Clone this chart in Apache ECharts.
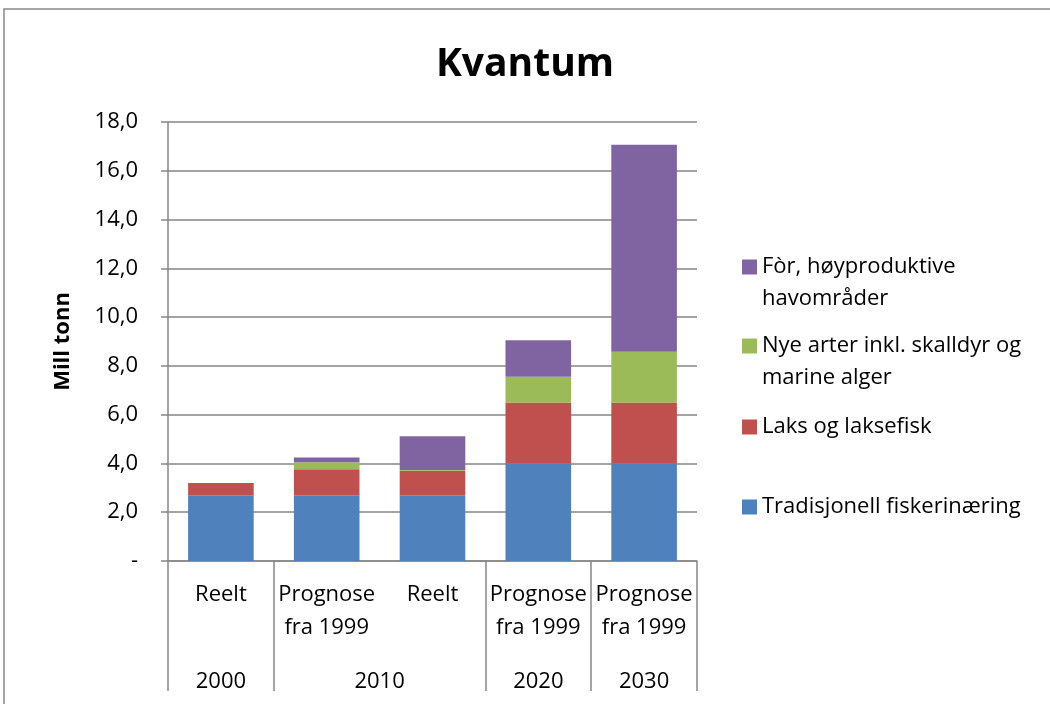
<!DOCTYPE html>
<html>
<head>
<meta charset="utf-8">
<script src="https://cdn.jsdelivr.net/npm/echarts@6/dist/echarts.min.js"></script>
<style>
  html, body { margin: 0; padding: 0; background: #fff; }
  #chart { width: 1050px; height: 704px; }
</style>
</head>
<body>
<div id="chart"></div>
<script>
// kategorier (første nivå) og år (andre nivå, halve kolonner)
var categories = ['Reelt', 'Prognose\nfra 1999', 'Reelt', 'Prognose\nfra 1999', 'Prognose\nfra 1999'];
var yearHalves = ['', '2000', '', '', '2010', '', '', '2020', '', '2030', ''];
var groupEdges = [0, 2, 6, 8, 10];

var seriesNames = ['Tradisjonell fiskerinæring', 'Laks og laksefisk',
    'Nye arter inkl. skalldyr og marine alger', 'Fòr, høyproduktive havområder'];
var legendText = ['Tradisjonell fiskerinæring', 'Laks og laksefisk',
    '\nNye arter inkl. skalldyr og\nmarine alger', '\nFòr, høyproduktive\nhavområder'];

var tradisjonell = [2.7, 2.7, 2.7, 4.0, 4.0];
var laks = [0.5, 1.06, 1.0, 2.5, 2.5];
var nyeArter = [0, 0.29, 0.03, 1.05, 2.08];
var forHav = [0, 0.19, 1.38, 1.5, 8.49];

var colors = ['#4F81BD', '#C0504D', '#9BBB59', '#8064A2'];
var FONT = 'Open Sans';
var FS = 22;

function makeSeries(i, data) {
    return {
        name: seriesNames[i],
        type: 'bar',
        stack: 'kvantum',
        barCategoryGap: '38%',
        data: data,
        itemStyle: { color: colors[i] }
    };
}

// én legende per post, plassert som i Excel (ikon ved første linje)
var legendTops = [486, 406, 293, 214];
var legends = [];
for (var i = 0; i < seriesNames.length; i++) {
    legends.push({
        orient: 'vertical',
        left: 737,
        top: legendTops[i],
        data: [seriesNames[i]],
        icon: 'rect',
        itemWidth: 15,
        itemHeight: 15,
        itemGap: 0,
        selectedMode: false,
        formatter: (function (k) { return function () { return legendText[k]; }; })(i),
        textStyle: { fontFamily: FONT, fontSize: FS, color: '#000', lineHeight: 32 }
    });
}

var option = {
    animation: false,
    backgroundColor: '#fff',
    color: colors,
    title: {
        text: 'Kvantum',
        left: 'center',
        top: 40,
        textStyle: { fontFamily: FONT, fontSize: 39, fontWeight: 'bold', color: '#000' }
    },
    legend: legends,
    grid: { left: 168, right: 353, top: 122, bottom: 143, containLabel: false },
    xAxis: [
        {
            type: 'category',
            position: 'bottom',
            data: categories,
            axisLine: { lineStyle: { color: '#868686', width: 1.5 } },
            axisTick: { show: false },
            axisLabel: {
                interval: 0,
                margin: 17,
                fontFamily: FONT,
                fontSize: FS,
                lineHeight: 33,
                color: '#000'
            }
        },
        {
            type: 'category',
            position: 'bottom',
            boundaryGap: false,
            data: yearHalves,
            axisLine: { show: false },
            axisTick: {
                show: true,
                length: 130,
                interval: function (idx) { return groupEdges.indexOf(idx) >= 0; },
                lineStyle: { color: '#868686', width: 1.5 }
            },
            axisLabel: {
                interval: 0,
                margin: 104,
                fontFamily: FONT,
                fontSize: FS,
                lineHeight: 33,
                color: '#000'
            }
        }
    ],
    yAxis: {
        type: 'value',
        min: 0,
        max: 18,
        interval: 2,
        name: 'Mill tonn',
        nameLocation: 'middle',
        nameGap: 94,
        nameTextStyle: { fontFamily: FONT, fontSize: FS, fontWeight: 'bold', color: '#000' },
        axisLine: { show: true, lineStyle: { color: '#868686', width: 1.5 } },
        axisTick: { show: true, length: 7, lineStyle: { color: '#868686', width: 1.5 } },
        axisLabel: {
            margin: 30,
            fontFamily: FONT,
            fontSize: FS,
            color: '#000',
            formatter: function (v) { return v === 0 ? '-' : v.toFixed(1).replace('.', ','); }
        },
        splitLine: { lineStyle: { color: '#868686', width: 1.5 } }
    },
    graphic: [{
        type: 'rect',
        shape: { x: 4, y: 9, width: 1200, height: 900 },
        style: { fill: 'none', stroke: '#888', lineWidth: 1.5 },
        silent: true
    }],
    series: [
        makeSeries(0, tradisjonell),
        makeSeries(1, laks),
        makeSeries(2, nyeArter),
        makeSeries(3, forHav)
    ]
};

var chart = echarts.init(document.getElementById('chart'));
chart.setOption(option);
</script>
</body>
</html>
